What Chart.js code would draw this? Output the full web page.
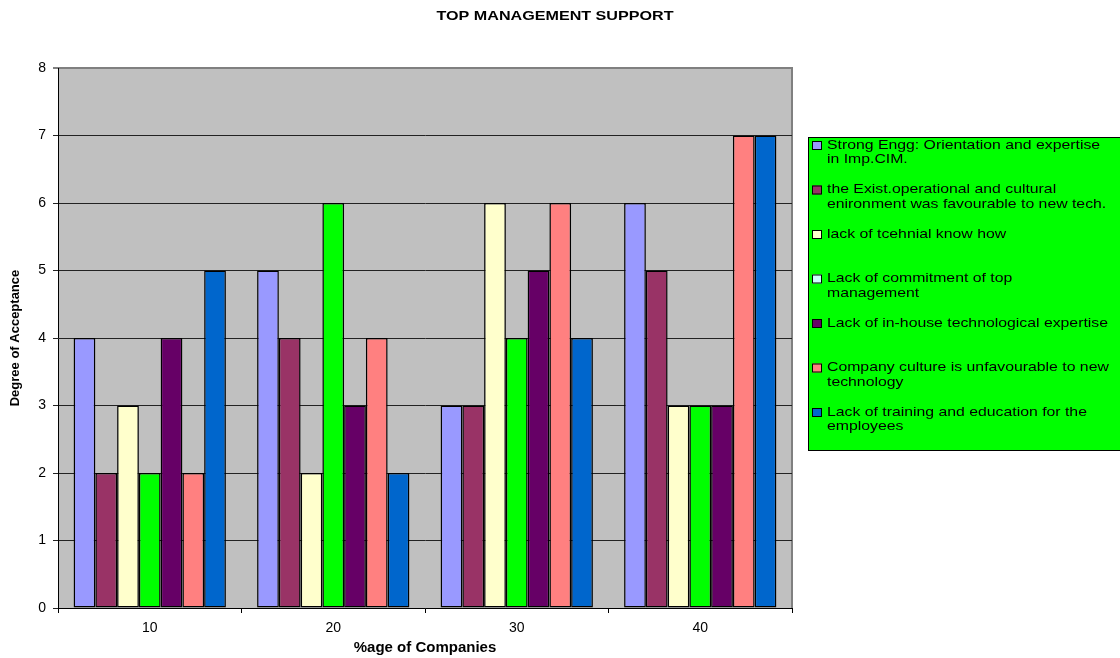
<!DOCTYPE html>
<html lang="en">
<head>
    <meta charset="UTF-8">
    <title>Top Management Support</title>
    <script src="https://cdn.jsdelivr.net/npm/chart.js"></script>
    <style>
        body { margin: 0; background: #fff; }
        #wrap { width: 1120px; height: 658px; }
    </style>
</head>
<body>
    <div id="wrap">
        <canvas id="myChart" width="1120" height="658"></canvas>
    </div>

<script>
    // data
    const categories = ['10', '20', '30', '40'];

    const seriesLabels = [
        ['Strong Engg: Orientation and expertise', 'in Imp.CIM.'],
        ['the Exist.operational and cultural', 'enironment was favourable to new tech.'],
        ['lack of tcehnial know how'],
        ['Lack of commitment of top', 'management'],
        ['Lack of in-house technological expertise'],
        ['Company culture is unfavourable to new', 'technology'],
        ['Lack of training and education for the', 'employees']
    ];

    const strongEngg   = [4, 5, 3, 6];
    const existEnv     = [2, 4, 3, 5];
    const techKnowHow  = [3, 2, 6, 3];
    const commitment   = [2, 6, 4, 3];
    const inHouse      = [4, 3, 5, 3];
    const culture      = [2, 4, 6, 7];
    const training     = [5, 2, 4, 7];

    const yTicks = [0, 1, 2, 3, 4, 5, 6, 7, 8];

    const seriesValues = [strongEngg, existEnv, techKnowHow, commitment, inHouse, culture, training];
    const barColors = ['#9999FF', '#993366', '#FFFFCC', '#00FF00', '#660066', '#FF8080', '#0066CC'];
    // excel legend shows a different swatch for the 4th series
    const legendColors = ['#9999FF', '#993366', '#FFFFCC', '#CCFFFF', '#660066', '#FF8080', '#0066CC'];

    const FONT = 'Arial, "Liberation Sans", sans-serif';
    const ctx = document.getElementById('myChart');

    // gray plot background + border, and the title on top
    const plotBg = {
        id: 'plotBg',
        beforeDraw(chart) {
            const { ctx, chartArea: a } = chart;
            ctx.save();
            ctx.fillStyle = '#C0C0C0';
            ctx.fillRect(a.left, a.top, a.right - a.left, a.bottom - a.top);
            ctx.strokeStyle = '#808080';
            ctx.lineWidth = 2;
            ctx.beginPath();
            ctx.moveTo(a.left, a.top);
            ctx.lineTo(a.right, a.top);
            ctx.lineTo(a.right, a.bottom);
            ctx.stroke();

            // title (text in the original is a bit stretched sideways)
            ctx.translate(555, 16);
            ctx.scale(1.24, 1);
            ctx.fillStyle = '#000';
            ctx.font = 'bold 13px ' + FONT;
            ctx.textAlign = 'center';
            ctx.textBaseline = 'middle';
            ctx.fillText('TOP MANAGEMENT SUPPORT', 0, 0);
            ctx.restore();
        }
    };

    // legend box on the right, drawn by hand so labels can wrap
    const boxLegend = {
        id: 'boxLegend',
        afterDraw(chart) {
            const c = chart.ctx;
            c.save();
            c.fillStyle = '#00FF00';
            c.fillRect(808, 137, 320, 313);
            c.strokeStyle = '#000';
            c.lineWidth = 1;
            c.strokeRect(808.5, 137.5, 320, 313);
            chart.data.datasets.forEach((ds, i) => {
                const y = 145 + i * 44.5;
                c.fillStyle = legendColors[i];
                c.fillRect(812, y - 4, 10, 9);
                c.strokeStyle = '#000';
                c.strokeRect(812.5, y - 3.5, 9, 8);
                c.save();
                c.translate(827, y);
                c.scale(1.17, 1);
                c.font = '13.5px ' + FONT;
                c.textBaseline = 'middle';
                c.textAlign = 'left';
                c.fillStyle = '#000';
                ds.lines.forEach((t, k) => c.fillText(t, 0, k * 14.5));
                c.restore();
            });
            c.restore();
        }
    };

    new Chart(ctx, {
        type: 'bar',
        data: {
            labels: categories,
            datasets: seriesValues.map((vals, i) => ({
                label: seriesLabels[i].join(' '),
                lines: seriesLabels[i],
                data: vals,
                backgroundColor: barColors[i],
                borderColor: '#000',
                borderWidth: 1.5,
                borderSkipped: false,
                barPercentage: 1,
                categoryPercentage: 0.83
            }))
        },
        options: {
            responsive: false,
            animation: false,
            layout: { padding: { left: 0, right: 328, top: 68, bottom: 0 } },
            plugins: {
                legend: { display: false },
                tooltip: { enabled: false },
                title: { display: false }
            },
            scales: {
                x: {
                    grid: {
                        drawOnChartArea: false,
                        drawTicks: true,
                        tickLength: 5,
                        color: '#000'
                    },
                    border: { color: '#000', width: 1 },
                    ticks: {
                        color: '#000',
                        padding: 7,
                        font: { family: FONT, size: 14 }
                    },
                    title: {
                        display: true,
                        text: '%age of Companies',
                        color: '#000',
                        padding: { top: 0, bottom: 1 },
                        font: { family: FONT, size: 15, weight: 'bold' }
                    },
                    afterFit(scale) { scale.height = 50; }
                },
                y: {
                    min: 0,
                    max: 8,
                    afterBuildTicks(scale) {
                        scale.ticks = yTicks.map(v => ({ value: v }));
                    },
                    grid: {
                        color: c => (c.tick && c.tick.value === 8 ? '#808080' : '#222'),
                        lineWidth: c => (c.tick && c.tick.value === 8 ? 2 : 1),
                        drawTicks: true,
                        tickLength: 5
                    },
                    border: { color: '#000', width: 1 },
                    ticks: {
                        color: '#000',
                        padding: 7,
                        font: { family: FONT, size: 14 }
                    },
                    title: {
                        display: true,
                        text: 'Degree of Acceptance',
                        color: '#000',
                        padding: { top: 8, bottom: 0 },
                        font: { family: FONT, size: 13, weight: 'bold' }
                    },
                    afterFit(scale) { scale.width = 58; }
                }
            }
        },
        plugins: [plotBg, boxLegend]
    });
</script>
</body>
</html>
